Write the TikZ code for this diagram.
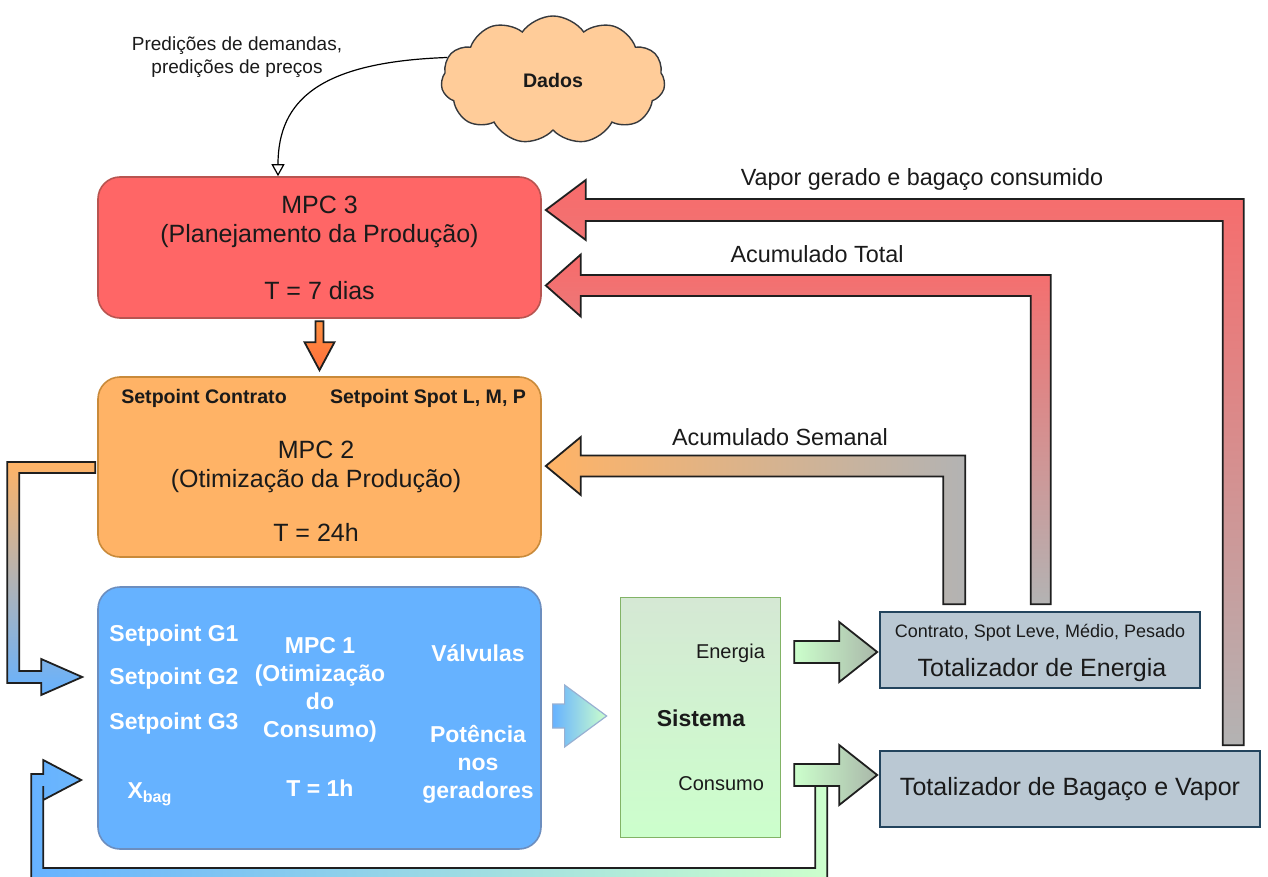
\documentclass[tikz,border=0pt]{standalone}
\usepackage{fontspec}
\setmainfont{Liberation Sans}
\usetikzlibrary{shapes.symbols,arrows.meta,calc}

\definecolor{mpcthree}{HTML}{FF6666}
\definecolor{mpcthreeline}{HTML}{B85450}
\definecolor{mpctwo}{HTML}{FFB366}
\definecolor{mpctwoline}{HTML}{C98A3A}
\definecolor{mpcone}{HTML}{66B2FF}
\definecolor{mpconeline}{HTML}{6C8EBF}
\definecolor{cloudfill}{HTML}{FFCC99}
\definecolor{cloudline}{HTML}{36393D}
\definecolor{sysTop}{HTML}{D5E8D4}
\definecolor{sysBot}{HTML}{CCFFCC}
\definecolor{sysline}{HTML}{82B366}
\definecolor{totfill}{HTML}{BAC8D3}
\definecolor{totline}{HTML}{23445D}
\definecolor{fbred}{HTML}{F86B6B}
\definecolor{fbgray}{HTML}{B3B3B3}
\definecolor{fbgreen}{HTML}{A9B7A9}
\definecolor{downtop}{HTML}{FF9040}
\definecolor{downbot}{HTML}{FF6E3C}
\definecolor{arrline}{HTML}{1F1F1F}
\definecolor{darktext}{HTML}{1A1A1A}

\tikzstyle{every node}=[text=darktext]
\tikzstyle{mpcbox}=[rounded corners=11pt,minimum width=221.5pt,line width=0.8pt]
\tikzstyle{totbox}=[draw=totline,fill=totfill,line width=0.8pt,minimum height=38pt]
\tikzstyle{fat}=[draw=arrline,line width=0.9pt]
\tikzstyle{title}=[font=\fontsize{12.5}{14.5}\selectfont,align=center]
\tikzstyle{setp}=[font=\bfseries\fontsize{9.8}{12}\selectfont]
\tikzstyle{intext}=[text=white,font=\bfseries\fontsize{11.5}{14}\selectfont,align=center]
\tikzstyle{lbl}=[font=\fontsize{11.7}{14}\selectfont]
\tikzstyle{smalltxt}=[font=\fontsize{10}{12}\selectfont]

\begin{document}
\begin{tikzpicture}[x=0.5pt,y=-0.5pt]
  \useasboundingbox (0,0) rectangle (1268,877);
  \clip (0,0) rectangle (1268,877);

  % blocks
  \node[mpcbox,draw=mpcthreeline,fill=mpcthree,minimum height=70.5pt] (mpcC) at (319.5,247.5) {};
  \node[mpcbox,draw=mpctwoline,fill=mpctwo,minimum height=90pt] (mpcB) at (319.5,467) {};
  \node[mpcbox,draw=mpconeline,fill=mpcone,minimum height=131pt] (mpcA) at (319.5,718) {};
  \node[draw=sysline,top color=sysTop,bottom color=sysBot,minimum width=80pt,minimum height=120pt] (sistema) at (700,717) {};
  \node[totbox,minimum width=160pt] (totE) at (1040,650) {};
  \node[totbox,minimum width=190pt,font=\fontsize{12.5}{14}\selectfont] (totB) at (1070,789) {Totalizador de Bagaço e Vapor};
  \node[cloud,cloud puffs=11,cloud puff arc=110,aspect=1.7,draw=cloudline,fill=cloudfill,line width=0.7pt,
        minimum width=112pt,minimum height=64pt,font=\bfseries\fontsize{9.8}{12}\selectfont] (dados) at (553,80) {Dados};

  % texts
  \node[font=\fontsize{9.5}{11.5}\selectfont,align=center] (pred) at (237,57) {Predições de demandas,\\predições de preços};
  \node[title] (mpcCname) at (319.5,221.5) {MPC 3\\(Planejamento da Produção)};
  \node[title] (mpcCper) at (319.5,291) {T = 7 dias};
  \node[setp] (spContr) at (204,398) {Setpoint Contrato};
  \node[setp] (spSpot) at (428,398) {Setpoint Spot L, M, P};
  \node[title] (mpcBname) at (316,467) {MPC 2\\(Otimização da Produção)};
  \node[title] (mpcBper) at (316,532) {T = 24h};
  \node[intext] (spG1) at (174,636) {Setpoint G1};
  \node[intext] (spG2) at (174,679) {Setpoint G2};
  \node[intext] (spG3) at (174,724) {Setpoint G3};
  \node[intext] (xbag) at (150,794) {X\textsubscript{bag}};
  \node[intext] (mpcAname) at (320,690) {MPC 1\\(Otimização\\do\\Consumo)};
  \node[intext] (mpcAper) at (320,788) {T = 1h};
  \node[intext] (valv) at (478,653) {Válvulas};
  \node[intext] (pot) at (478,764) {Potência\\nos\\geradores};
  \node[smalltxt,anchor=east] (energia) at (772,653) {Energia};
  \node[font=\bfseries\fontsize{11.5}{14}\selectfont] (sisname) at (701,718) {Sistema};
  \node[smalltxt,anchor=east] (consumo) at (771,784) {Consumo};
  \node[font=\fontsize{9}{11}\selectfont] (totEsub) at (1040,633) {Contrato, Spot Leve, Médio, Pesado};
  \node[font=\fontsize{12.5}{14}\selectfont] (totEname) at (1042,670) {Totalizador de Energia};
  \node[lbl] (vapLbl) at (922,180) {Vapor gerado e bagaço consumido};
  \node[lbl] (totLbl) at (817,254) {Acumulado Total};
  \node[lbl] (semLbl) at (780,437) {Acumulado Semanal};

  % data to MPC 3
  \draw[-{Triangle[open,length=6pt,width=6.5pt]},line width=0.6pt]
    (dados.168) .. controls (320,62) and (278,100) .. ([xshift=-20.75pt]mpcC.north);

  % MPC 3 to MPC 2
  \coordinate (downTip) at ($(mpcB.north)+(0,-6)$);
  \shadedraw[fat,top color=downtop,bottom color=downbot]
    (downTip) -- ++(-15,-28) -- ++(11,0) -- ++(0,-21) -- ++(8,0) -- ++(0,21) -- ++(11,0) -- cycle;

  % feedback to MPC 3
  \coordinate (vapTip) at ($(mpcC.east)+(4,-37.5)$);
  \coordinate (vapEnd) at ($(totB.north east)+(-17,-5)$);
  \shadedraw[fat,top color=fbred,bottom color=fbgray]
    (vapTip) -- ++(40,-30) -- ++(0,19) -| (vapEnd) -- ++(-21,0) |- ($(vapTip)+(40,11)$) -- ++(0,19) -- cycle;
  \coordinate (totTip) at ($(mpcC.east)+(4,38)$);
  \coordinate (totEnd) at ($(totE.north east)+(-150,-7)$);
  \shadedraw[fat,top color=fbred,bottom color=fbgray]
    (totTip) -- ++(35,-31) -- ++(0,20.5) -| (totEnd) -- ++(-20,0) |- ($(totTip)+(35,10.5)$) -- ++(0,20.5) -- cycle;

  % feedback to MPC 2
  \coordinate (semTip) at ($(mpcB.east)+(4,-1)$);
  \coordinate (semEnd) at ($(totE.north west)+(86,-7)$);
  \shadedraw[fat,left color=mpctwo,right color=fbgray]
    (semTip) -- ++(35,-29) -- ++(0,18.5) -| (semEnd) -- ++(-22,0) |- ($(semTip)+(35,10.5)$) -- ++(0,18.5) -- cycle;

  % MPC 2 to MPC 1
  \coordinate (bTop) at ($(mpcB.west)+(-2,-5)$);
  \coordinate (aTip) at ($(mpcA.west)+(-15,-41)$);
  \shadedraw[fat,top color=mpctwo,bottom color=mpcone,middle color=fbgray]
    (bTop) -- ++(-88,0) |- ($(aTip)+(-41,6)$) -- ++(0,12) -- (aTip) -- ++(-41,-18) -- ++(0,12)
    -| ($(bTop)+(-76,11)$) -- ++(76,0) -- cycle;

  % MPC 1 to Sistema
  \coordinate (sysTip) at ($(sistema.west)+(-13,-1)$);
  \shadedraw[draw=mpconeline!70,line width=0.6pt,left color=mpcone,right color=sysBot]
    (sysTip) -- ++(-42,-31) -- ++(0,19) -- ++(-12,0) -- ++(0,24) -- ++(12,0) -- ++(0,19) -- cycle;

  % consumption back to MPC 1
  \coordinate (coTip) at ($(totB.west)+(-2,-14)$);
  \coordinate (fbTop) at ($(coTip)+(-50,11)$);
  \coordinate (fbTip) at ($(mpcA.west)+(-16,62)$);
  \shadedraw[fat,left color=mpcone,right color=sysBot]
    (fbTop) -- ++(0,96) -- ++(-796,0) |- ($(fbTip)+(-38,-6)$) -- ++(0,-14) -- (fbTip) -- ++(-38,20)
    -- ++(0,-14) |- ($(fbTop)+(-12,82)$) -- ++(0,-82) -- cycle;

  % Sistema to totalizers
  \coordinate (enTip) at ($(totE.west)+(-2,2)$);
  \shadedraw[fat,left color=sysBot,right color=fbgreen]
    (enTip) -- ++(-38,-30) -- ++(0,19) -- ++(-45,0) -- ++(0,22) -- ++(45,0) -- ++(0,19) -- cycle;
  \shadedraw[fat,left color=sysBot,right color=fbgreen]
    (coTip) -- ++(-38,-30) -- ++(0,19) -- ++(-45,0) -- ++(0,22) -- ++(45,0) -- ++(0,19) -- cycle;
\end{tikzpicture}
\end{document}
